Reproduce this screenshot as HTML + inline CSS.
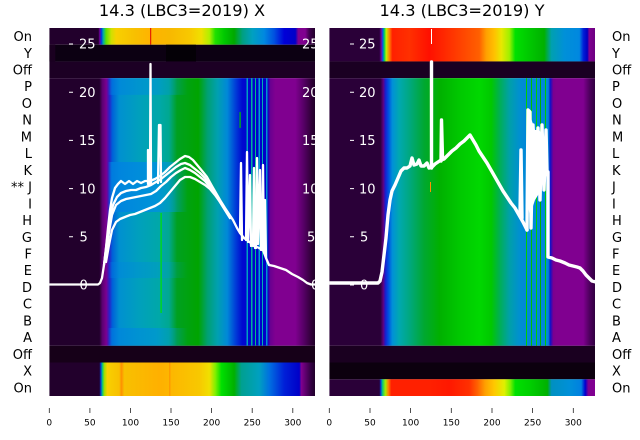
<!DOCTYPE html>
<html><head><meta charset="utf-8"><style>
html,body{margin:0;padding:0;background:#fff;}
svg{display:block;font-family:"DejaVu Sans","Liberation Sans",sans-serif;}
</style></head><body>
<svg width="640" height="440" viewBox="0 0 640 440" xmlns="http://www.w3.org/2000/svg">
<defs>
<clipPath id="cL"><rect x="49.3" y="28" width="265.7" height="368"/></clipPath>
<clipPath id="cR"><rect x="329.3" y="28" width="265.7" height="368"/></clipPath>

<linearGradient id="gLspec" gradientUnits="userSpaceOnUse" x1="49.3" x2="315.3" y1="0" y2="0">
<stop offset="0" stop-color="#22002c"/><stop offset=".188" stop-color="#22002c"/>
<stop offset=".199" stop-color="#5a0070"/><stop offset=".214" stop-color="#7a0090"/>
<stop offset=".226" stop-color="#2a20c8"/><stop offset=".237" stop-color="#0060d8"/>
<stop offset=".263" stop-color="#0090d0"/><stop offset=".338" stop-color="#00a0bc"/>
<stop offset=".414" stop-color="#00a8a8"/><stop offset=".450" stop-color="#00a890"/>
<stop offset=".480" stop-color="#00a020"/><stop offset=".560" stop-color="#00a400"/>
<stop offset=".594" stop-color="#00a070"/><stop offset=".632" stop-color="#00a0b0"/>
<stop offset=".669" stop-color="#0088d8"/><stop offset=".699" stop-color="#0040d8"/>
<stop offset=".726" stop-color="#0008d0"/><stop offset=".820" stop-color="#0000c8"/>
<stop offset=".831" stop-color="#6a0090"/><stop offset=".850" stop-color="#800090"/>
<stop offset=".925" stop-color="#800090"/><stop offset=".955" stop-color="#580068"/>
<stop offset=".985" stop-color="#300038"/><stop offset="1" stop-color="#200028"/>
</linearGradient>
<linearGradient id="gLblue" gradientUnits="userSpaceOnUse" x1="49.3" x2="315.3" y1="0" y2="0">
<stop offset=".22" stop-color="#0080e0" stop-opacity="0"/><stop offset=".235" stop-color="#0080e0" stop-opacity="1"/>
<stop offset=".40" stop-color="#0090e0" stop-opacity="1"/><stop offset=".47" stop-color="#0098d0" stop-opacity="0.6"/>
<stop offset=".52" stop-color="#00a0c0" stop-opacity="0"/>
</linearGradient>

<linearGradient id="gRspec" gradientUnits="userSpaceOnUse" x1="329.3" x2="595.3" y1="0" y2="0">
<stop offset="0" stop-color="#2a0038"/><stop offset=".192" stop-color="#2a0038"/>
<stop offset=".203" stop-color="#600080"/><stop offset=".211" stop-color="#1820d0"/>
<stop offset=".222" stop-color="#0050e0"/><stop offset=".237" stop-color="#0090d8"/>
<stop offset=".263" stop-color="#00a8b0"/><stop offset=".301" stop-color="#00a880"/>
<stop offset=".357" stop-color="#00a830"/><stop offset=".414" stop-color="#00b000"/>
<stop offset=".489" stop-color="#00c800"/><stop offset=".564" stop-color="#00d800"/>
<stop offset=".609" stop-color="#00c800"/><stop offset=".639" stop-color="#00b050"/>
<stop offset=".677" stop-color="#00a0a8"/><stop offset=".714" stop-color="#0090d0"/>
<stop offset=".737" stop-color="#0088d8"/><stop offset=".823" stop-color="#0088d8"/>
<stop offset=".831" stop-color="#1010c8"/><stop offset=".842" stop-color="#7a0090"/>
<stop offset=".853" stop-color="#800090"/><stop offset=".955" stop-color="#800090"/>
<stop offset=".977" stop-color="#500060"/><stop offset="1" stop-color="#300040"/>
</linearGradient>

<linearGradient id="gLtop" gradientUnits="userSpaceOnUse" x1="49.3" x2="315.3" y1="0" y2="0">
<stop offset="0" stop-color="#22002c"/><stop offset=".184" stop-color="#22002c"/>
<stop offset=".190" stop-color="#7000a0"/><stop offset=".195" stop-color="#0030e0"/>
<stop offset=".203" stop-color="#00b0a0"/><stop offset=".214" stop-color="#60e000"/>
<stop offset=".233" stop-color="#d0e000"/><stop offset=".252" stop-color="#f8d000"/>
<stop offset=".320" stop-color="#f8c000"/><stop offset=".376" stop-color="#ffb400"/>
<stop offset=".451" stop-color="#f8b800"/><stop offset=".526" stop-color="#f8c800"/>
<stop offset=".571" stop-color="#f0e000"/><stop offset=".602" stop-color="#b0f000"/>
<stop offset=".624" stop-color="#20e000"/><stop offset=".658" stop-color="#00c800"/>
<stop offset=".695" stop-color="#00a800"/><stop offset=".726" stop-color="#00a080"/>
<stop offset=".763" stop-color="#00a0c0"/><stop offset=".808" stop-color="#0088e0"/>
<stop offset=".846" stop-color="#0050e0"/><stop offset=".883" stop-color="#0000d8"/>
<stop offset=".925" stop-color="#0000c8"/><stop offset=".936" stop-color="#800090"/>
<stop offset=".962" stop-color="#800090"/><stop offset=".977" stop-color="#400050"/>
<stop offset="1" stop-color="#200028"/>
</linearGradient>
<linearGradient id="gLbot" gradientUnits="userSpaceOnUse" x1="49.3" x2="315.3" y1="0" y2="0">
<stop offset="0" stop-color="#22002c"/><stop offset=".188" stop-color="#22002c"/>
<stop offset=".194" stop-color="#0040e0"/><stop offset=".199" stop-color="#00c080"/>
<stop offset=".207" stop-color="#a0e000"/><stop offset=".218" stop-color="#f8d000"/>
<stop offset=".263" stop-color="#f8c000"/><stop offset=".271" stop-color="#ff9000"/>
<stop offset=".282" stop-color="#f8c000"/><stop offset=".414" stop-color="#ffb000"/>
<stop offset=".564" stop-color="#f8c800"/><stop offset=".602" stop-color="#f0e000"/>
<stop offset=".624" stop-color="#80f000"/><stop offset=".647" stop-color="#00e000"/>
<stop offset=".695" stop-color="#00b000"/><stop offset=".722" stop-color="#00a090"/>
<stop offset=".789" stop-color="#00a0c0"/><stop offset=".827" stop-color="#0070e0"/>
<stop offset=".883" stop-color="#0020d8"/><stop offset=".940" stop-color="#0000c8"/>
<stop offset=".947" stop-color="#800090"/><stop offset=".962" stop-color="#600070"/>
<stop offset=".985" stop-color="#300040"/><stop offset="1" stop-color="#200028"/>
</linearGradient>
<linearGradient id="gRtop" gradientUnits="userSpaceOnUse" x1="329.3" x2="595.3" y1="0" y2="0">
<stop offset="0" stop-color="#2a0038"/><stop offset=".188" stop-color="#2a0038"/>
<stop offset=".195" stop-color="#7000a0"/><stop offset=".201" stop-color="#0060e0"/>
<stop offset=".207" stop-color="#00d060"/><stop offset=".214" stop-color="#c0f000"/>
<stop offset=".226" stop-color="#ff8000"/><stop offset=".237" stop-color="#ff2000"/>
<stop offset=".301" stop-color="#ff3000"/><stop offset=".376" stop-color="#ff1000"/>
<stop offset=".451" stop-color="#ff3000"/><stop offset=".526" stop-color="#ff5000"/>
<stop offset=".564" stop-color="#ff6000"/><stop offset=".590" stop-color="#ffa000"/>
<stop offset=".620" stop-color="#ffc000"/><stop offset=".647" stop-color="#e8e800"/>
<stop offset=".677" stop-color="#a0f000"/><stop offset=".699" stop-color="#00e000"/>
<stop offset=".752" stop-color="#00c800"/><stop offset=".808" stop-color="#00b000"/>
<stop offset=".835" stop-color="#00a0b0"/><stop offset=".883" stop-color="#0090d8"/>
<stop offset=".940" stop-color="#0088e0"/><stop offset=".955" stop-color="#0020d8"/>
<stop offset=".970" stop-color="#0000c0"/><stop offset=".977" stop-color="#800090"/>
<stop offset="1" stop-color="#6a0080"/>
</linearGradient>
<linearGradient id="gRbot" gradientUnits="userSpaceOnUse" x1="329.3" x2="595.3" y1="0" y2="0">
<stop offset="0" stop-color="#2a0038"/><stop offset=".188" stop-color="#2a0038"/>
<stop offset=".194" stop-color="#0040e0"/><stop offset=".199" stop-color="#00c080"/>
<stop offset=".211" stop-color="#a0f000"/><stop offset=".222" stop-color="#ff8000"/>
<stop offset=".233" stop-color="#ff2000"/><stop offset=".376" stop-color="#ff2000"/>
<stop offset=".451" stop-color="#ff1800"/><stop offset=".526" stop-color="#ff3000"/>
<stop offset=".556" stop-color="#ff6000"/><stop offset=".586" stop-color="#ffa000"/>
<stop offset=".620" stop-color="#ffc800"/><stop offset=".658" stop-color="#e0f000"/>
<stop offset=".680" stop-color="#80f000"/><stop offset=".699" stop-color="#00e000"/>
<stop offset=".752" stop-color="#00d000"/><stop offset=".820" stop-color="#00b000"/>
<stop offset=".835" stop-color="#0090c0"/><stop offset=".902" stop-color="#0090d8"/>
<stop offset=".947" stop-color="#0080e0"/><stop offset=".962" stop-color="#0000d0"/>
<stop offset=".974" stop-color="#800090"/><stop offset="1" stop-color="#800090"/>
</linearGradient>
</defs>

<rect x="0" y="0" width="640" height="440" fill="#fff"/>

<!-- Titles -->
<text x="182" y="16" font-size="16.2" text-anchor="middle" fill="#000">14.3 (LBC3=2019) X</text>
<text x="462" y="16" font-size="16.2" text-anchor="middle" fill="#000">14.3 (LBC3=2019) Y</text>

<!-- LEFT PANEL -->
<g clip-path="url(#cL)">
<rect x="49.3" y="28" width="266" height="16.73" fill="url(#gLtop)"/>
<rect x="150.2" y="28" width="1" height="16.73" fill="#e00000"/>
<rect x="49.3" y="44.73" width="266" height="16.72" fill="#0c0012"/>
<rect x="49.3" y="44.73" width="6" height="16.72" fill="#1a0020"/>
<rect x="166" y="44.73" width="30" height="16.72" fill="#040006"/>
<rect x="49.3" y="61.45" width="266" height="16.73" fill="#1c0024"/>
<rect x="49.3" y="78.18" width="266" height="267.62" fill="url(#gLspec)"/>
<rect x="49.3" y="78.18" width="266" height="16.7" fill="url(#gLblue)" opacity="0.5"/>
<rect x="49.3" y="162" width="266" height="50" fill="url(#gLblue)" opacity="0.85"/>
<rect x="49.3" y="262" width="266" height="16" fill="url(#gLblue)" opacity="0.35"/>
<rect x="49.3" y="328" width="266" height="17.8" fill="url(#gLblue)" opacity="0.6"/>
<rect x="246.5" y="78.18" width="1.5" height="267.6" fill="#00a0c0"/>
<rect x="251" y="78.18" width="1.5" height="267.6" fill="#00b0a0"/>
<rect x="255" y="78.18" width="1" height="267.6" fill="#00c080"/>
<rect x="258.5" y="78.18" width="1.5" height="267.6" fill="#00a0d0"/>
<rect x="262" y="78.18" width="1" height="267.6" fill="#00b0b0"/>
<rect x="266" y="78.18" width="1.5" height="267.6" fill="#0090d0"/>
<rect x="160.5" y="213" width="1.2" height="100" fill="#00e000"/>
<rect x="239.5" y="112" width="1.2" height="16" fill="#00c000"/>
<rect x="49.3" y="345.8" width="266" height="16.7" fill="#160018"/>
<rect x="49.3" y="362.5" width="266" height="33.5" fill="url(#gLbot)"/>
<rect x="169" y="362.5" width="1.5" height="33.5" fill="#ff8800" opacity="0.6"/>

<!-- ticks and labels inside -->
<g stroke="#fff" stroke-width="1">
<line x1="69" y1="44" x2="73" y2="44"/><line x1="69" y1="92.2" x2="73" y2="92.2"/>
<line x1="69" y1="140.4" x2="73" y2="140.4"/><line x1="69" y1="188.6" x2="73" y2="188.6"/>
<line x1="69" y1="236.8" x2="73" y2="236.8"/><line x1="69" y1="285" x2="73" y2="285"/>
</g>
<g fill="#fff" font-size="13">
<text x="79" y="48.7">25</text><text x="79" y="96.9">20</text><text x="79" y="145.1">15</text>
<text x="79" y="193.3">10</text><text x="79.5" y="241.5">5</text><text x="79.5" y="289.7">0</text>
<text x="302" y="48.7">25</text><text x="302" y="96.9">20</text><text x="302" y="145.1">15</text>
<text x="302" y="193.3">10</text><text x="307" y="241.5">5</text><text x="311" y="289.7">0</text>
</g>

<!-- white curves -->
<g fill="none" stroke="#fff" stroke-width="2.3" stroke-linejoin="round" stroke-linecap="round">
<path d="M49,284.5 L98,284.5 L100,283 L102,278 L104,265 L106,248 L108,228 L110,210 L112,198 L115,188 L118,184 L121,181 L125,184 L129,181 L133,184 L137,181 L141,183 L145,181 L150,181 L155,179 L160,176 L165,172 L170,167 L175,163 L180,159 L185,156 L189,157 L193,160 L198,166 L203,172 L207,177 L212,186 L216,193 L220,200 L225,208 L229,214 L233,220 L237,228 L240,233 L244,238 L247,240 L252,244 L257,247 L263,250 L266,258 L269,265 L274,266 L280,268 L286,270 L292,274 L298,277 L303,280 L307,283 L311,284.5 L316,284.5"/>
<path d="M104,265 L107,240 L110,220 L113,205 L117,197 L121,193 L126,191 L131,190 L136,190 L141,188 L146,187 L151,185 L156,182 L161,179 L166,175 L171,171 L176,167 L181,164 L185,163 L190,165 L195,169 L200,173 L205,178 L210,185 L215,193 L220,201 L225,209 L230,217"/>
<path d="M106,255 L109,232 L112,215 L116,205 L121,201 L126,199 L131,198 L136,197 L141,196 L146,195 L151,194 L156,191 L161,186 L166,182 L171,177 L176,173 L181,170 L185,168 L190,170 L195,173 L200,177 L205,181 L210,187 L215,194 L220,202 L225,210 L230,218"/>
<path d="M106,262 L109,245 L112,230 L116,222 L120,219 L125,217 L130,215 L135,214 L140,212 L145,210 L150,208 L155,206 L160,203 L165,198 L170,192 L175,186 L180,180 L185,177 L190,177 L195,179 L200,182 L205,185 L210,189 L215,195 L220,202 L225,210 L230,218"/>
<path d="M148,184 L148,150 L149,184"/>
<path d="M150,183 L150.5,64 L151,183"/>
<path d="M158,183 L159,125 L160.5,125 L161,182"/>
<path d="M240,233 L241,163 L242,240"/>
<path d="M246,240 L247,152 L248,242 L250,175 L251,246"/>
<path d="M253,246 L254,168 L255,248"/>
<path d="M256,248 L257,158 L258,244 L260,170 L261,250"/>
<path d="M262,250 L263,165 L264,252 L265,200 L266,258"/>
</g>
</g>

<!-- RIGHT PANEL -->
<g clip-path="url(#cR)">
<rect x="329.3" y="28" width="266" height="33.45" fill="url(#gRtop)"/>
<rect x="329.3" y="61.45" width="266" height="16.73" fill="#1a0022"/>
<rect x="329.3" y="78.18" width="266" height="267.62" fill="url(#gRspec)"/>
<rect x="526" y="78.18" width="1" height="267.6" fill="#00d000"/>
<rect x="531" y="78.18" width="1" height="267.6" fill="#00c000"/>
<rect x="536" y="78.18" width="1" height="267.6" fill="#00d000"/>
<rect x="540" y="78.18" width="1" height="267.6" fill="#00b000"/>
<rect x="545" y="78.18" width="1" height="267.6" fill="#00c800"/>
<rect x="430" y="182" width="1" height="10" fill="#ff9000"/>
<rect x="329.3" y="345.8" width="266" height="16.7" fill="#1a0020"/>
<rect x="329.3" y="362.5" width="266" height="16.8" fill="#0c000e"/>
<rect x="329.3" y="379.3" width="266" height="16.7" fill="url(#gRbot)"/>

<g stroke="#fff" stroke-width="1">
<line x1="350" y1="44" x2="354" y2="44"/><line x1="350" y1="92.2" x2="354" y2="92.2"/>
<line x1="350" y1="140.4" x2="354" y2="140.4"/><line x1="350" y1="188.6" x2="354" y2="188.6"/>
<line x1="350" y1="236.8" x2="354" y2="236.8"/><line x1="350" y1="285" x2="354" y2="285"/>
</g>
<g fill="#fff" font-size="13">
<text x="359" y="48.7">25</text><text x="359" y="96.9">20</text><text x="359" y="145.1">15</text>
<text x="359" y="193.3">10</text><text x="360" y="241.5">5</text><text x="360" y="289.7">0</text>
</g>

<g fill="none" stroke="#fff" stroke-width="3.4" stroke-linejoin="round" stroke-linecap="round">
<path d="M329,283 L378,283 L380,281 L382,272 L384,255 L386,238 L388,215 L390,200 L392,191 L395,185 L398,178 L401,171 L404,168 L407,168 L410,166 L412,158 L414,165 L417,164 L419,160 L421,166 L424,166 L427,163 L429,168 L432,167 L435,164 L438,162 L441,160 L444,159 L448,155 L452,151 L456,148 L460,144 L464,141 L468,137 L470,135 L473,140 L476,145 L479,151 L483,157 L487,163 L491,170 L495,177 L499,184 L503,191 L507,197 L511,203 L515,208 L519,215 L523,222 L527,230"/>
<path d="M431.5,168 L431.5,62"/>
<path d="M441,161 L441.5,120 L442.5,158"/>
<path d="M520,214 L521,150 L522,218"/>
<path d="M527,230 L528,110 L530,112 L531,228 L533,125 L535,180 L538,128 L540,200 L542,125 L544,190 L546,130 L547,172 L548,172 L548,257 L552,258 L556,260 L560,261 L565,263 L569,265 L573,266 L577,267 L580,268 L583,271 L586,275 L589,278 L592,281 L596,282"/>
</g>
<path d="M526,200 L528,135 L531,118 L535,130 L539,130 L543,135 L547,150 L548,175 L544,178 L540,192 L535,200 L530,215 Z" fill="#fff"/>
<line x1="431.5" y1="29" x2="431.5" y2="44" stroke="#fff" stroke-width="1"/>
</g>

<!-- Left row labels -->
<g font-size="13" fill="#000" text-anchor="end">
<text x="32" y="41.1">On</text><text x="32" y="57.8">Y</text><text x="32" y="74.5">Off</text>
<text x="32" y="91.2">P</text><text x="32" y="108">O</text><text x="32" y="124.7">N</text>
<text x="32" y="141.4">M</text><text x="32" y="158.2">L</text><text x="32" y="174.9">K</text>
<text x="32" y="191.6">** J</text><text x="32" y="208.3">I</text><text x="32" y="225.1">H</text>
<text x="32" y="241.8">G</text><text x="32" y="258.5">F</text><text x="32" y="275.2">E</text>
<text x="32" y="292">D</text><text x="32" y="308.7">C</text><text x="32" y="325.4">B</text>
<text x="32" y="342.2">A</text><text x="32" y="358.9">Off</text><text x="32" y="375.6">X</text>
<text x="32" y="392.3">On</text>
</g>
<!-- Right row labels -->
<g font-size="13" fill="#000">
<text x="612" y="41.1">On</text><text x="612" y="57.8">Y</text><text x="612" y="74.5">Off</text>
<text x="612" y="91.2">P</text><text x="612" y="108">O</text><text x="612" y="124.7">N</text>
<text x="612" y="141.4">M</text><text x="612" y="158.2">L</text><text x="612" y="174.9">K</text>
<text x="612" y="191.6">J</text><text x="612" y="208.3">I</text><text x="612" y="225.1">H</text>
<text x="612" y="241.8">G</text><text x="612" y="258.5">F</text><text x="612" y="275.2">E</text>
<text x="612" y="292">D</text><text x="612" y="308.7">C</text><text x="612" y="325.4">B</text>
<text x="612" y="342.2">A</text><text x="612" y="358.9">Off</text><text x="612" y="375.6">X</text>
<text x="612" y="392.3">On</text>
</g>

<!-- X axes -->
<g stroke="#222" stroke-width="0.8">
<line x1="49.3" y1="408" x2="49.3" y2="413"/><line x1="89.9" y1="408" x2="89.9" y2="413"/>
<line x1="130.5" y1="408" x2="130.5" y2="413"/><line x1="171" y1="408" x2="171" y2="413"/>
<line x1="211.6" y1="408" x2="211.6" y2="413"/><line x1="252.2" y1="408" x2="252.2" y2="413"/>
<line x1="292.8" y1="408" x2="292.8" y2="413"/>
<line x1="329.3" y1="408" x2="329.3" y2="413"/><line x1="370" y1="408" x2="370" y2="413"/>
<line x1="410.6" y1="408" x2="410.6" y2="413"/><line x1="451.3" y1="408" x2="451.3" y2="413"/>
<line x1="492" y1="408" x2="492" y2="413"/><line x1="532.6" y1="408" x2="532.6" y2="413"/>
<line x1="573.3" y1="408" x2="573.3" y2="413"/>
</g>
<g font-size="9" fill="#000" text-anchor="middle">
<text x="49.3" y="425.5">0</text><text x="89.9" y="425.5">50</text><text x="130.5" y="425.5">100</text>
<text x="171" y="425.5">150</text><text x="211.6" y="425.5">200</text><text x="252.2" y="425.5">250</text>
<text x="292.8" y="425.5">300</text>
<text x="329.3" y="425.5">0</text><text x="370" y="425.5">50</text><text x="410.6" y="425.5">100</text>
<text x="451.3" y="425.5">150</text><text x="492" y="425.5">200</text><text x="532.6" y="425.5">250</text>
<text x="573.3" y="425.5">300</text>
</g>
</svg>
</body></html>
